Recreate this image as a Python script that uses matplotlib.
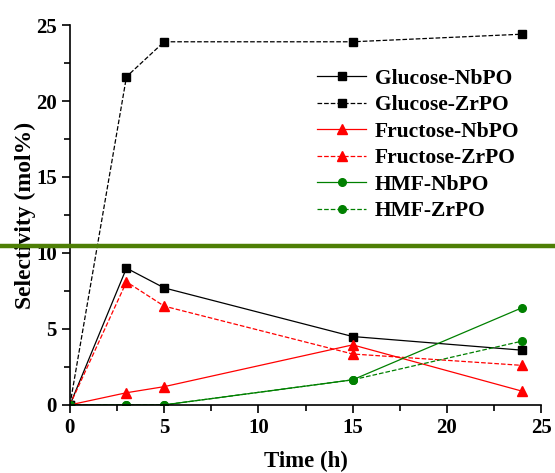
import matplotlib.pyplot as plt
from matplotlib.lines import Line2D
from matplotlib.ticker import MultipleLocator

plt.rcParams['font.family'] = ['Liberation Serif', 'DejaVu Serif']
plt.rcParams['font.weight'] = 'bold'

time = [0, 3, 5, 15, 24]
glucose_nb = [0, 9.0, 7.7, 4.5, 3.6]
glucose_zr = [0, 21.6, 23.9, 23.9, 24.4]
fructose_nb = [0, 0.8, 1.2, 3.95, 0.9]
fructose_zr = [0, 8.1, 6.5, 3.35, 2.6]
hmf_nb = [0, 0, 0, 1.65, 6.4]
hmf_zr = [0, 0, 0, 1.65, 4.2]

fig = plt.figure(figsize=(5.55, 4.73), dpi=100)
ax = fig.add_axes([0.126, 0.144, 0.849, 0.803])

ms = 5.5
ax.plot(time, glucose_nb, '-', color='black', marker='s', ms=ms, lw=0.9, label='Glucose-NbPO')
ax.plot(time, glucose_zr, '--', color='black', marker='s', ms=ms, lw=0.9, label='Glucose-ZrPO')
ax.plot(time, fructose_nb, '-', color='red', marker='^', ms=ms + 1, lw=0.9, label='Fructose-NbPO')
ax.plot(time, fructose_zr, '--', color='red', marker='^', ms=ms + 1, lw=0.9, label='Fructose-ZrPO')
ax.plot(time, hmf_nb, '-', color='green', marker='o', ms=ms, lw=0.9, label='HMF-NbPO')
ax.plot(time, hmf_zr, '--', color='green', marker='o', ms=ms, lw=0.9, label='HMF-ZrPO')

ax.set_xlim(0, 25)
ax.set_ylim(0, 25)
ax.xaxis.set_major_locator(MultipleLocator(5))
ax.xaxis.set_minor_locator(MultipleLocator(2.5))
ax.yaxis.set_major_locator(MultipleLocator(5))
ax.yaxis.set_minor_locator(MultipleLocator(2.5))
ax.spines['top'].set_visible(False)
ax.spines['right'].set_visible(False)
for s in ['left', 'bottom']:
    ax.spines[s].set_linewidth(1.2)
ax.tick_params(which='major', direction='out', length=6, width=1.2, labelsize=15)
ax.tick_params(which='minor', direction='out', length=4, width=1.2)
for lab in ax.get_xticklabels() + ax.get_yticklabels():
    lab.set_fontweight('bold')

ax.set_xlabel('Time (h)', fontsize=16.5, fontweight='bold', labelpad=9)
ax.set_ylabel('Selectivity (mol%)', fontsize=17, fontweight='bold', labelpad=0)

ax.legend(loc='upper left', bbox_to_anchor=(0.524, 0.885), frameon=False,
          handlelength=2.3, labelspacing=0.3, handletextpad=0.4,
          borderpad=0, borderaxespad=0,
          prop={'weight': 'bold', 'size': 15.5})

# green rule across the picture
fig.add_artist(Line2D([0, 1], [1 - 246 / 473, 1 - 246 / 473], color='#4e7f06', lw=3.2,
                      transform=fig.transFigure))

fig.savefig('out.png', dpi=100)
